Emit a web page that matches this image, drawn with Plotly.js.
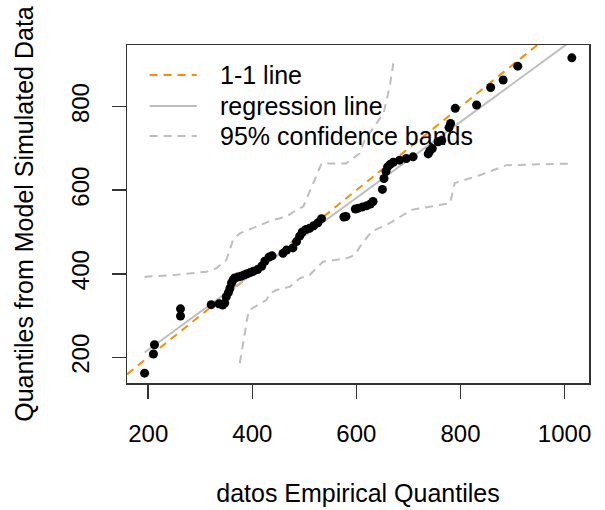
<!DOCTYPE html>
<html>
<head>
<meta charset="utf-8">
<script src="https://cdn.plot.ly/plotly-3.0.1.min.js"></script>
<style>
  html, body { margin: 0; padding: 0; background: #ffffff; }
  #chart { width: 605px; height: 510px; }
</style>
</head>
<body>
<div id="chart"></div>
<script>
// Empirical quantiles (x) and model-simulated quantiles (y)
const empirical = [193, 210, 212, 262, 262, 321, 336, 343, 347, 350, 354, 357, 360, 363, 366, 372, 378, 384, 390, 396,
  402, 410, 418, 424, 432, 438, 459, 466, 478, 485, 491, 496, 503, 510, 518, 526, 533, 576, 580, 598,
  604, 612, 620, 627, 632, 650, 653, 657, 660, 665, 671, 683, 696, 709, 738, 741, 746, 757, 764, 778,
  781, 790, 831, 858, 882, 910, 1014];
const simulated = [162, 208, 230, 299, 316, 326, 328, 325, 330, 345, 355, 365, 378, 385, 390, 392, 394, 397, 400, 403,
  406, 410, 418, 430, 440, 443, 449, 457, 462, 477, 490, 500, 506, 509, 515, 522, 532, 536, 537, 555,
  557, 560, 563, 567, 573, 602, 628, 645, 656, 662, 667, 672, 676, 680, 687, 694, 700, 716, 719, 750,
  760, 796, 804, 846, 864, 897, 917];

// 95% confidence bands
const upperBandX = [193, 250, 312, 331, 350, 363, 376, 408, 440, 466, 485, 498, 514, 533, 580, 606, 616, 652, 664, 671];
const upperBandY = [393, 397, 405, 413, 433, 481, 497, 513, 529, 537, 553, 561, 609, 664, 664, 688, 720, 784, 848, 904];
const lowerBandX = [376, 393, 405, 427, 434, 446, 472, 491, 510, 536, 581, 597, 607, 629, 664, 706, 780, 789, 837, 889, 1017];
const lowerBandY = [186, 313, 321, 337, 353, 361, 369, 389, 397, 429, 437, 445, 465, 501, 521, 553, 569, 617, 636, 660, 664];

// Axis ticks
const xTicks = [200, 400, 600, 800, 1000];
const yTicks = [200, 400, 600, 800];
const xRange = [159.2, 1047];
const yRange = [138.5, 947.7];

// Legend entries
const legendLabels = ['1-1 line', 'regression line', '95% confidence bands'];

// Least-squares regression of simulated on empirical
const n = empirical.length;
const mx = empirical.reduce((a, b) => a + b, 0) / n;
const my = simulated.reduce((a, b) => a + b, 0) / n;
let sxy = 0, sxx = 0;
for (let i = 0; i < n; i++) { sxy += (empirical[i] - mx) * (simulated[i] - my); sxx += (empirical[i] - mx) ** 2; }
const slope = sxy / sxx;
const intercept = my - slope * mx;
const xMin = Math.min(...empirical), xMax = Math.max(...empirical);
const regX = [xMin, xMax];
const regY = regX.map(v => intercept + slope * v);

const FONT = "Liberation Sans, Arial, sans-serif";
const ORANGE = '#FF8C00';
const GRAY = '#BEBEBE';
const DASH = '8px,6px';

const styles = [
  { color: ORANGE, width: 2, dash: DASH },
  { color: GRAY, width: 2, dash: 'solid' },
  { color: GRAY, width: 2, dash: DASH }
];

const traces = [
  { x: xRange, y: xRange, mode: 'lines', name: legendLabels[0], line: styles[0] },
  { x: regX, y: regY, mode: 'lines', name: legendLabels[1], line: styles[1] },
  { x: upperBandX, y: upperBandY, mode: 'lines', name: legendLabels[2], line: styles[2] },
  { x: lowerBandX, y: lowerBandY, mode: 'lines', name: 'lower band', line: styles[2] },
  { x: empirical, y: simulated, mode: 'markers', name: 'data',
    marker: { color: '#000000', size: 9 } }
];

// Manual legend (top-left inside plot, no box)
const rowY = [0.911, 0.8195, 0.7308];
const shapes = legendLabels.map((lab, i) => ({
  type: 'line', xref: 'paper', yref: 'paper',
  x0: 0.049, x1: 0.151, y0: rowY[i], y1: rowY[i],
  line: styles[i]
}));
const annotations = legendLabels.map((lab, i) => ({
  text: lab, xref: 'paper', yref: 'paper', x: 0.196, y: rowY[i],
  xanchor: 'left', yanchor: 'middle', showarrow: false,
  font: { family: FONT, size: 25, color: '#000000' }
}));

const layout = {
  width: 605, height: 510,
  margin: { l: 127, r: 16, t: 45, b: 127 },
  paper_bgcolor: '#ffffff', plot_bgcolor: '#ffffff',
  font: { family: FONT, size: 24, color: '#000000' },
  showlegend: false,
  shapes: shapes,
  annotations: annotations,
  xaxis: {
    range: xRange, tickvals: xTicks, ticktext: xTicks.map(String),
    showgrid: false, zeroline: false,
    showline: true, mirror: true, linecolor: '#333333', linewidth: 1.5,
    ticks: 'outside', ticklen: 14, tickwidth: 1.5, tickcolor: '#333333',
    ticklabelstandoff: 15,
    tickfont: { family: FONT, size: 24 },
    title: { text: 'datos Empirical Quantiles', font: { family: FONT, size: 25 }, standoff: 38 }
  },
  yaxis: {
    range: yRange, tickvals: yTicks, ticktext: yTicks.map(String),
    showgrid: false, zeroline: false,
    showline: true, mirror: true, linecolor: '#333333', linewidth: 1.5,
    ticks: 'outside', ticklen: 14, tickwidth: 1.5, tickcolor: '#333333',
    tickangle: -90,
    ticklabelstandoff: 13,
    tickfont: { family: FONT, size: 24 },
    title: { text: 'Quantiles from Model Simulated Data', font: { family: FONT, size: 25 }, standoff: 26 }
  }
};

Plotly.newPlot('chart', traces, layout, { displayModeBar: false, staticPlot: true });
</script>
</body>
</html>
